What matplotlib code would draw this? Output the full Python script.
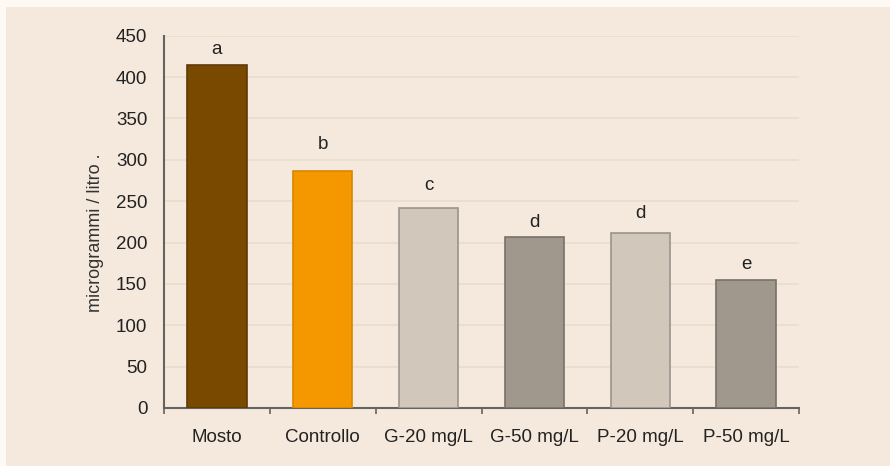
import numpy as np
import matplotlib.pyplot as plt
from matplotlib.patches import Rectangle

# dati
categorie = ["Mosto", "Controllo", "G-20 mg/L", "G-50 mg/L", "P-20 mg/L", "P-50 mg/L"]
valori = [414, 286, 242, 207, 212, 155]
lettere = ["a", "b", "c", "d", "d", "e"]
pos_lettere = [433, 318, 269, 224, 235, 173]
colori = ["#7A4900", "#F59800", "#D1C7BA", "#A0978D", "#D1C7BA", "#A0978D"]
bordi = ["#5E3A08", "#D88600", "#9A948E", "#77716B", "#9A948E", "#77716B"]
yticks = [0, 50, 100, 150, 200, 250, 300, 350, 400, 450]

plt.rcParams['font.family'] = ['Liberation Sans', 'DejaVu Sans']

fig = plt.figure(figsize=(8.9, 4.66), dpi=100)
fig.patch.set_facecolor("#FEF9F3")
sfondo = Rectangle((6 / 890, 0), 1, 1 - 7 / 466, transform=fig.transFigure,
                   facecolor="#F5E9DD", edgecolor="none", zorder=-10)
fig.add_artist(sfondo)

ax = fig.add_axes([0.1843, 0.1245, 0.7135, 0.799])
ax.set_facecolor("none")
ax.set_zorder(1)

x = np.arange(len(categorie))
ax.bar(x, valori, width=0.56, color=colori, edgecolor=bordi, linewidth=1.2, zorder=3)
for xi, l, yl in zip(x, lettere, pos_lettere):
    ax.text(xi, yl, l, ha="center", va="center", fontsize=13.5, color="#222222")

ax.set_xlim(-0.5, len(categorie) - 0.5)
ax.set_ylim(0, 450)
ax.set_yticks(yticks)
ax.set_yticklabels([str(v) for v in yticks], fontsize=13.5, color="#222222")
ax.set_xticks(x)
ax.set_xticklabels(categorie, fontsize=13.5, color="#222222")
ax.tick_params(axis="x", length=0, pad=15)
ax.tick_params(axis="y", length=0, pad=12)
ax.set_xticks(np.arange(-0.5, len(categorie)), minor=True)
ax.tick_params(axis="x", which="minor", length=4, color="#66625E", width=1.2)

ax.yaxis.grid(True, color="#E8DCCE", linewidth=1.2, zorder=0)
ax.set_axisbelow(True)
for s in ["top", "right"]:
    ax.spines[s].set_visible(False)
for s in ["left", "bottom"]:
    ax.spines[s].set_color("#66625E")
    ax.spines[s].set_linewidth(1.5)

ax.set_ylabel("microgrammi / litro .", fontsize=13, color="#333333")
ax.yaxis.set_label_coords(-0.095, 0.47)

plt.savefig("out.png", dpi=100, facecolor=fig.get_facecolor())
